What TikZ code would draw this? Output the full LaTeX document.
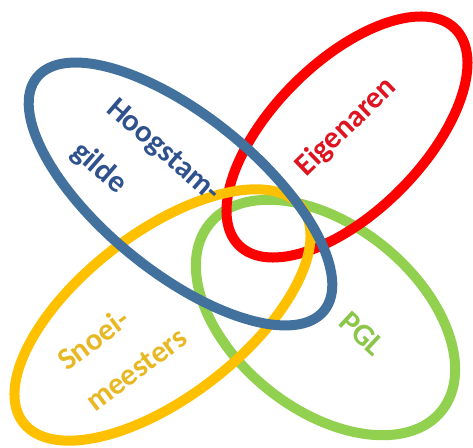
\documentclass[tikz,border=0pt]{standalone}
\usepackage{fontspec}
\setmainfont{Carlito}
\definecolor{cblue}{RGB}{65,113,156}
\definecolor{cred}{RGB}{255,0,0}
\definecolor{cyellow}{RGB}{255,192,0}
\definecolor{cgreen}{RGB}{146,208,80}
\definecolor{tblue}{RGB}{47,82,143}
\definecolor{tred}{RGB}{222,20,32}
\definecolor{tyellow}{RGB}{232,184,36}
\definecolor{tgreen}{RGB}{140,198,72}
\tikzset{
  ring/.style={line width=10pt},
  lbl/.style={anchor=base west, inner sep=0pt, font=\fontsize{31}{37}\selectfont\bfseries},
}
\begin{document}
\begin{tikzpicture}[x=1pt,y=1pt]
\useasboundingbox (0,0) rectangle (473,447);
\draw[ring, cgreen, shift={(325.5,129.5)}, rotate=-38.8] (0,0) ellipse [x radius=149pt, y radius=92pt];
\draw[ring, cred, shift={(347,310)}, rotate=45] (0,0) ellipse [x radius=153pt, y radius=75pt];
\draw[ring, cyellow, shift={(162.5,132)}, rotate=37.7] (0,0) ellipse [x radius=176pt, y radius=82pt];
\draw[ring, cblue, shift={(180.5,253)}, rotate=-39.1] (0,0) ellipse [x radius=185pt, y radius=78pt];
\node[lbl, tblue, rotate=-41] (hoog) at (105,336) {Hoogstam-};
\node[lbl, tblue, rotate=-41] (gilde) at (70,293) {gilde};
\node[lbl, tred, rotate=44] (eig) at (306,269.5) {Eigenaren};
\node[lbl, tyellow, rotate=37] (snoei) at (67,75) {Snoei-};
\node[lbl, tyellow, rotate=37] (meest) at (95,34) {meesters};
\node[lbl, tgreen, rotate=-43] (pgl) at (337,123) {PGL};
\end{tikzpicture}
\end{document}
